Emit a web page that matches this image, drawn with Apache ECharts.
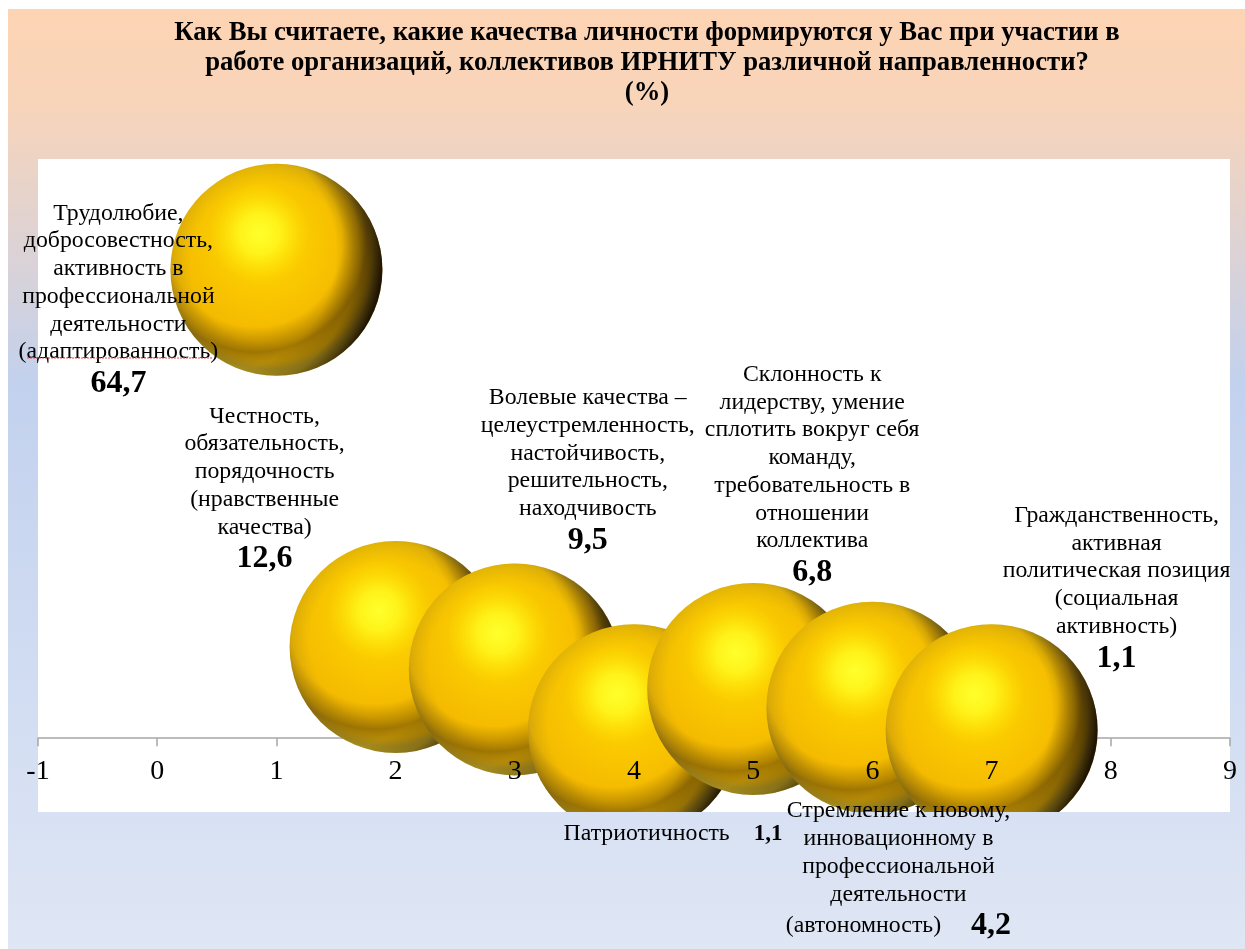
<!DOCTYPE html>
<html><head><meta charset="utf-8">
<style>html,body{margin:0;padding:0;background:#fff}#c{width:1245px;height:949px}</style>
<script src="https://cdn.jsdelivr.net/npm/echarts@6/dist/echarts.min.js"></script>
</head><body><div id="c"></div>
<script>
const titleText = 'Как Вы считаете, какие качества личности формируются у Вас при участии в\nработе организаций, коллективов ИРНИТУ различной направленности?\n(%)';
const xValues = [1, 2, 3, 4, 5, 6, 7];
const yValues = [64.7, 12.6, 9.5, 1.1, 6.8, 4.2, 1.1];
const valueLabels = ['64,7', '12,6', '9,5', '1,1', '6,8', '4,2', '1,1'];
const captions = [
  ['Трудолюбие,', 'добросовестность,', 'активность в', 'профессиональной', 'деятельности', '(адаптированность)'],
  ['Честность,', 'обязательность,', 'порядочность', '(нравственные', 'качества)'],
  ['Волевые качества –', 'целеустремленность,', 'настойчивость,', 'решительность,', 'находчивость'],
  ['Патриотичность'],
  ['Склонность к', 'лидерству, умение', 'сплотить вокруг себя', 'команду,', 'требовательность в', 'отношении', 'коллектива'],
  ['Стремление к новому,', 'инновационному в', 'профессиональной', 'деятельности', '(автономность)'],
  ['Гражданственность,', 'активная', 'политическая позиция', '(социальная', 'активность)']
];
const labelShift = [[-158, 31], [-131, -157], [73, -198], [39, 104], [59, -213], [26, 163], [125, -141]];
const sphereRadius = 106;

const radial = (x, y, r, stops) => ({type: 'radial', x, y, r, colorStops: stops.map(s => ({offset: s[0], color: s[1]}))});
const sphereLayers = [
  radial(0.47, 0.47, 0.5, [[0, '#FAC200'], [0.75, '#F4BA00'], [0.92, '#D9A808'], [1, '#AE9522']]),
  radial(0.42, 0.33, 0.45, [[0, 'rgba(255,225,0,0.8)'], [1, 'rgba(255,215,0,0)']]),
  radial(0.40, 0.36, 0.66, [[0, 'rgba(90,60,0,0)'], [0.62, 'rgba(90,60,0,0)'], [0.8, 'rgba(90,60,0,0.5)'], [0.93, 'rgba(120,85,0,0.15)'], [1, 'rgba(200,150,0,0)']]),
  radial(0.22, 0.42, 0.78, [[0, 'rgba(20,10,0,0)'], [0.72, 'rgba(20,10,0,0)'], [0.86, 'rgba(20,10,0,0.25)'], [0.94, 'rgba(20,10,0,0.6)'], [1, 'rgba(20,10,0,0.92)']]),
  radial(0.42, 0.33, 0.24, [[0, 'rgba(255,255,45,1)'], [0.4, 'rgba(255,248,30,0.85)'], [1, 'rgba(255,225,0,0)']])
];
function labelText(i) {
  const cap = captions[i];
  if (i === 3) return '{t|' + cap[0] + '}        {s|' + valueLabels[i] + '}';
  if (i === 5) {
    return cap.slice(0, -1).map(s => '{t|' + s + '}').join('\n') + '\n{t|' + cap[cap.length - 1] + '}          {b|' + valueLabels[i] + '}';
  }
  return cap.map(s => '{t|' + s + '}').join('\n') + '\n{b|' + valueLabels[i] + '}';
}
const serif = '"Liberation Serif","Times New Roman",serif';
const points = xValues.map((x, i) => [x, yValues[i]]);
const chart = echarts.init(document.getElementById('c'));
chart.setOption({
  animation: false,
  backgroundColor: '#ffffff',
  textStyle: {fontFamily: serif},
  title: {
    text: titleText, left: 642, top: 13, textAlign: 'center',
    textStyle: {fontFamily: serif, fontSize: 26.7, fontWeight: 'bold', lineHeight: 30, color: '#000'}
  },
  graphic: [
    {type: 'rect', z: -10, silent: true, shape: {x: 8, y: 9, width: 1237, height: 940},
      style: {fill: {type: 'linear', x: 0, y: 0, x2: 0, y2: 1, colorStops: [
        {offset: 0, color: '#FDD4B4'}, {offset: 0.1, color: '#F8D4BA'},
        {offset: 0.4, color: '#C2D1EE'}, {offset: 0.7, color: '#D0DCF2'}, {offset: 1, color: '#DFE6F4'}]}}},
    {type: 'line', z: 20, silent: true, shape: {x1: 27, y1: 358, x2: 212, y2: 358},
      style: {stroke: '#E05050', lineWidth: 1, lineDash: [2, 1]}}
  ],
  grid: {left: 38, right: 15, top: 159, height: 653, show: true, backgroundColor: '#fff', borderWidth: 0},
  xAxis: [
    {type: 'value', min: -1, max: 9, interval: 1, splitLine: {show: false}, z: 0,
      axisLine: {onZero: true, lineStyle: {color: '#A6A6A6', width: 1.5}},
      axisTick: {show: true, length: 8, lineStyle: {color: '#A6A6A6', width: 1.5}},
      axisLabel: {show: false}},
    {type: 'value', min: -1, max: 9, interval: 1, position: 'bottom', splitLine: {show: false}, z: 6,
      axisLine: {show: false, onZero: false}, axisTick: {show: false},
      axisLabel: {show: true, inside: true, margin: 26, fontSize: 28, color: '#000', fontFamily: serif,
        showMinLabel: true, showMaxLabel: true}}
  ],
  yAxis: {type: 'value', min: -10.2, max: 80, show: false, splitLine: {show: false}},
  series: [
    {
      name: 'spheres', type: 'custom', xAxisIndex: 0, yAxisIndex: 0, z: 3, clip: true,
      encode: {x: 0, y: 1},
      data: points,
      renderItem(params, api) {
        const c = api.coord([api.value(0), api.value(1)]);
        return {
          type: 'group',
          children: sphereLayers.map((fill, k) => ({
            type: 'circle', z2: params.dataIndex * 10 + k,
            shape: {cx: c[0], cy: c[1], r: sphereRadius},
            style: {fill}
          }))
        };
      }
    },
    {
      name: 'captions', type: 'scatter', xAxisIndex: 0, yAxisIndex: 0, z: 8, clip: false, symbolSize: 1,
      itemStyle: {color: 'transparent', opacity: 1}, silent: true,
      data: points.map((p, i) => ({
        value: p,
        label: {
          show: true, position: 'inside', offset: labelShift[i], align: 'center', verticalAlign: 'middle',
          color: '#000', opacity: 1, formatter: labelText(i),
          rich: {
            t: {fontFamily: serif, fontSize: 23.8, lineHeight: 27.7, color: '#000'},
            b: {fontFamily: serif, fontSize: 32, fontWeight: 'bold', lineHeight: 36, color: '#000'},
            s: {fontFamily: serif, fontSize: 23, fontWeight: 'bold', lineHeight: 28, color: '#000'}
          }
        }
      }))
    }
  ]
});
</script></body></html>
